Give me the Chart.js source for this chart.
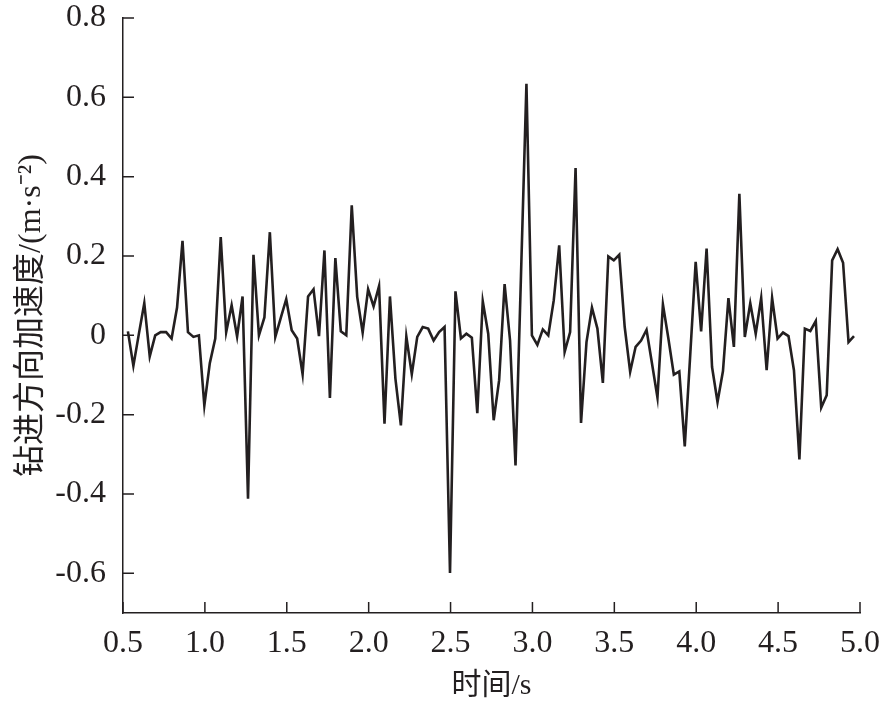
<!DOCTYPE html>
<html>
<head>
<meta charset="utf-8">
<script src="https://cdn.jsdelivr.net/npm/chart.js@4.4.1/dist/chart.umd.min.js"></script>
<style>
body { margin: 0; background: #fff; }
canvas { display: block; }
</style>
</head>
<body>
<canvas id="chartAccel" width="883" height="710"></canvas>
<script>
// sampled at 30 Hz starting at about 0.53 s
var startTime = 0.53;
var sampleStep = 1 / 30;

var accel = [
	0.01, -0.077, 0.003, 0.081, -0.053, 0.0, 0.008, 0.008, -0.008, 0.07,
	0.238, 0.008, -0.004, 0.0, -0.177, -0.07, -0.008, 0.248, 0.008, 0.076,
	-0.003, 0.098, -0.412, 0.203, 0.0, 0.045, 0.26, -0.004, 0.044, 0.091,
	0.013, -0.008, -0.098, 0.098, 0.116, -0.002, 0.214, -0.158, 0.195, 0.01,
	0.0, 0.328, 0.097, 0.007, 0.116, 0.073, 0.124, -0.223, 0.098, -0.109,
	-0.227, -0.003, -0.098, -0.004, 0.021, 0.017, -0.013, 0.008, 0.021, -0.599,
	0.111, -0.008, 0.004, -0.006, -0.196, 0.086, 0.004, -0.214, -0.113, 0.129,
	-0.013, -0.328, 0.15, 0.634, 0.0, -0.024, 0.015, 0.0, 0.088, 0.227,
	-0.042, 0.008, 0.422, -0.221, -0.017, 0.07, 0.017, -0.12, 0.199, 0.189,
	0.203, 0.021, -0.092, -0.029, -0.013, 0.014, -0.071, -0.157, 0.078, -0.008,
	-0.099, -0.091, -0.28, -0.05, 0.185, 0.01, 0.219, -0.08, -0.168, -0.09,
	0.094, -0.029, 0.357, -0.004, 0.081, 0.004, 0.094, -0.088, 0.094, -0.008,
	0.007, -0.002, -0.088, -0.313, 0.017, 0.011, 0.036, -0.182, -0.151, 0.189,
	0.217, 0.183, -0.017, -0.002
];

var xTicks = [0.5, 1.0, 1.5, 2.0, 2.5, 3.0, 3.5, 4.0, 4.5, 5.0];
var yTicks = [-0.6, -0.4, -0.2, 0, 0.2, 0.4, 0.6, 0.8];

var xTitle = '时间/s';
var yTitle = '钻进方向加速度/(m·s⁻²)';

var points = accel.map(function (v, i) {
	return { x: startTime + i * sampleStep, y: v };
});

var ink = '#231f20';
var tickFont = { family: "'Liberation Serif', 'Times New Roman', serif", size: 32 };
var xTitleFont = { family: "'Liberation Serif', 'Noto Sans CJK SC', serif", size: 30 };
var yTitleFont = { family: "'Liberation Serif', 'Noto Sans CJK SC', serif", size: 32 };

// tick marks point into the plot
var innerTicks = {
	id: 'innerTicks',
	afterDraw: function (chart) {
		var ctx = chart.ctx;
		var xs = chart.scales.x, ys = chart.scales.y;
		var len = 11;
		ctx.save();
		ctx.strokeStyle = ink;
		ctx.lineWidth = 1.5;
		ctx.beginPath();
		xs.ticks.forEach(function (t) {
			var px = xs.getPixelForValue(t.value);
			ctx.moveTo(px, ys.bottom);
			ctx.lineTo(px, ys.bottom - len);
		});
		ys.ticks.forEach(function (t) {
			var py = ys.getPixelForValue(t.value);
			ctx.moveTo(xs.left, py);
			ctx.lineTo(xs.left + len, py);
		});
		ctx.stroke();
		ctx.restore();
	}
};

var ctx = document.getElementById('chartAccel').getContext('2d');
var chart = new Chart(ctx, {
	type: 'line',
	data: {
		datasets: [{
			data: points,
			borderColor: ink,
			borderWidth: 2.6,
			pointRadius: 0,
			tension: 0,
			fill: false
		}]
	},
	options: {
		responsive: false,
		animation: false,
		devicePixelRatio: 1,
		layout: { padding: { top: 18, right: 23, left: 0, bottom: 0 } },
		plugins: {
			legend: { display: false },
			tooltip: { enabled: false }
		},
		scales: {
			x: {
				type: 'linear',
				min: 0.5,
				max: 5.0,
				afterBuildTicks: function (scale) {
					scale.ticks = xTicks.map(function (v) { return { value: v }; });
				},
				afterFit: function (scale) {
					scale.height = 97;
					scale.paddingLeft = 0;
					scale.paddingRight = 0;
				},
				grid: { display: false },
				border: { display: true, color: ink, width: 1.5 },
				ticks: {
					color: ink,
					font: tickFont,
					padding: 3,
					maxRotation: 0,
					autoSkip: false,
					callback: function (v) { return v.toFixed(1); }
				},
				title: {
					display: true,
					text: xTitle,
					color: ink,
					font: xTitleFont,
					padding: { top: 0, bottom: 6 }
				}
			},
			y: {
				type: 'linear',
				min: -0.7,
				max: 0.8,
				afterBuildTicks: function (scale) {
					scale.ticks = yTicks.map(function (v) { return { value: v }; });
				},
				afterFit: function (scale) {
					scale.width = 123;
					scale.paddingTop = 0;
					scale.paddingBottom = 0;
				},
				grid: { display: false },
				border: { display: true, color: ink, width: 1.5 },
				ticks: {
					color: ink,
					font: tickFont,
					padding: 9,
					autoSkip: false,
					callback: function (v) { return v === 0 ? '0' : v.toFixed(1); }
				},
				title: {
					display: true,
					text: yTitle,
					color: ink,
					font: yTitleFont,
					padding: { top: 12, bottom: 0 }
				}
			}
		}
	},
	plugins: [innerTicks]
});
</script>
</body>
</html>
